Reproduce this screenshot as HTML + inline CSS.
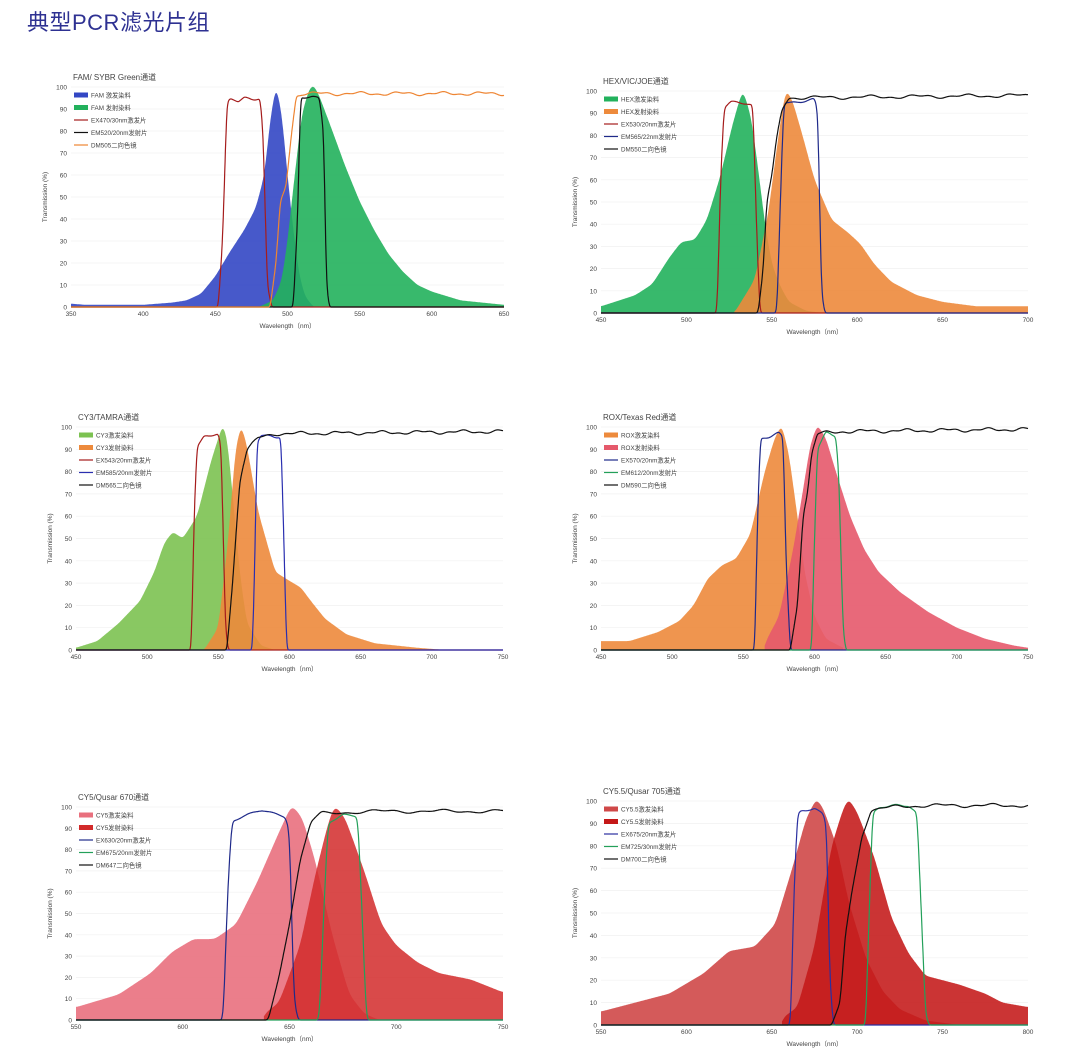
<!DOCTYPE html>
<html><head><meta charset="utf-8">
<style>
html,body{margin:0;padding:0;background:#fff;}
body{width:1091px;height:1064px;overflow:hidden;position:relative;font-family:"Liberation Sans","Noto Sans CJK SC",sans-serif;}
#t{position:absolute;left:27px;top:5px;font-size:22px;color:#2e3192;font-family:"Liberation Sans","Noto Sans CJK SC",sans-serif;letter-spacing:0.5px;}
svg{position:absolute;left:0;top:0;}
text{font-family:"Liberation Sans","Noto Sans CJK SC",sans-serif;fill:#444;}
</style></head><body>
<div id="t">典型PCR滤光片组</div>
<svg id="s" width="1091" height="1064" xmlns="http://www.w3.org/2000/svg"></svg>
<script>
var S=document.getElementById('s'),out='';
function interp(p,w){
  if(w<=p[0][0])return p[0][1];
  for(var i=0;i<p.length-1;i++){if(w<=p[i+1][0]){var a=p[i],b=p[i+1];if(b[0]==a[0])return b[1];return a[1]+(b[1]-a[1])*(w-a[0])/(b[0]-a[0]);}}
  return p[p.length-1][1];
}
function smooth(p,sig,wig){
  var a=p[0][0],b=p[p.length-1][0],st=0.25,raw=[],i;
  for(var w=a;w<=b+1e-9;w+=st){var v=interp(p,w);if(wig&&v>85)v+=0.6*Math.sin(w*0.22)+0.35*Math.sin(w*0.55);raw.push([w,v]);}
  if(sig<=0)return raw;
  var r=Math.ceil(3*sig/st),k=[],ks=0;
  for(i=-r;i<=r;i++){var e=Math.exp(-0.5*Math.pow(i*st/sig,2));k.push(e);ks+=e;}
  var res=[];
  for(i=0;i<raw.length;i++){var s=0;for(var j=-r;j<=r;j++){var idx=Math.min(raw.length-1,Math.max(0,i+j));s+=raw[idx][1]*k[j+r];}res.push([raw[i][0],s/ks]);}
  return res;
}
function chart(c){
  var x0=c.x0,x1=c.x1,y0=c.y0,y1=c.y1,w0=c.w0,w1=c.w1;
  function X(w){return x0+(w-w0)/(w1-w0)*(x1-x0);}
  function Y(v){return y0+(100-v)/100*(y1-y0);}
  var g='';
  for(var v=0;v<=100;v+=10){var y=Y(v);g+='<line x1="'+x0+'" x2="'+x1+'" y1="'+y+'" y2="'+y+'" stroke="'+(v?'#f0f0f0':'#999')+'" stroke-width="0.7"/>';
    g+='<text x="'+(x0-4)+'" y="'+(y+2.5)+'" font-size="6.5" text-anchor="end">'+v+'</text>';}
  for(var w=w0;w<=w1;w+=c.step){g+='<text x="'+X(w)+'" y="'+(y1+9)+'" font-size="6.5" text-anchor="middle">'+w+'</text>';}
  g+='<text x="'+((x0+x1)/2)+'" y="'+(y1+21)+'" font-size="6.5" text-anchor="middle">Wavelength（nm）</text>';
  var my=(y0+y1)/2;
  g+='<text x="'+(x0-24)+'" y="'+my+'" font-size="6.5" text-anchor="middle" transform="rotate(-90 '+(x0-24)+' '+my+')">Transmission (%)</text>';
  g+='<text x="'+(x0+2)+'" y="'+(y0-7)+'" font-size="8">'+c.title+'</text>';
  c.series.forEach(function(s){
    var pts,d='';
    if(s.fill){
      pts=smooth(s.pts,1.3,false);
      d='M'+X(pts[0][0]).toFixed(1)+','+Y(0);
      pts.forEach(function(q){d+=' L'+X(q[0]).toFixed(1)+','+Y(Math.max(0,q[1])).toFixed(1);});
      d+=' L'+X(pts[pts.length-1][0]).toFixed(1)+','+Y(0)+'Z';
      g+='<path d="'+d+'" fill="'+s.col+'" fill-opacity="'+(s.op||0.9)+'"/>';
    } else {
      pts=smooth(s.pts,0.6,true);
      pts.forEach(function(q,i){d+=(i?' L':'M')+X(q[0]).toFixed(1)+','+Y(q[1]).toFixed(1);});
      g+='<path d="'+d+'" fill="none" stroke="'+s.col+'" stroke-width="1.2" stroke-linejoin="round"/>';
    }
  });
  var ly=y0+8;
  c.series.forEach(function(s,i){var yy=ly+i*12.5;
    if(s.fill)g+='<rect x="'+(x0+3)+'" y="'+(yy-2.5)+'" width="14" height="5" fill="'+s.col+'"/>';
    else g+='<line x1="'+(x0+3)+'" x2="'+(x0+17)+'" y1="'+yy+'" y2="'+yy+'" stroke="'+s.col+'" stroke-width="1.2"/>';
    g+='<text x="'+(x0+20)+'" y="'+(yy+2.3)+'" font-size="6.3">'+s.name+'</text>';});
  out+=g;
}
chart({x0:71,x1:504,y0:87,y1:307,w0:350,w1:650,step:50,title:'FAM/ SYBR Green通道',series:[
 {name:'FAM 激发染料',fill:1,col:'#3347c4',pts:[[350,1.5],[360,1],[400,1],[420,2],[430,3],[440,6],[450,14],[460,25],[470,35],[478,45],[484,60],[488,85],[492,101],[496,88],[500,60],[504,35],[508,15],[512,5],[518,0]]},
 {name:'FAM 发射染料',fill:1,col:'#22b15c',pts:[[480,0],[490,3],[496,12],[500,30],[505,60],[510,88],[515,99],[518,101],[522,96],[530,82],[540,64],[550,48],[560,35],[570,24],[580,16],[590,10],[600,7],[620,3],[650,1]]},
 {name:'EX470/30nm激发片',col:'#a51c1c',pts:[[350,0],[452,0],[455,30],[458,92],[460,94],[466,93],[470,95],[481,95],[483,80],[486,10],[489,0],[650,0]]},
 {name:'EM520/20nm发射片',col:'#111',pts:[[350,0],[504,0],[507,40],[509,96],[515,95],[522,95],[525,80],[527,10],[529,0],[650,0]]},
 {name:'DM505二向色镜',col:'#ee8533',pts:[[350,0],[488,0],[492,20],[495,48],[499,55],[503,80],[506,96],[510,97],[650,97]]}
]});
chart({x0:601,x1:1028,y0:91,y1:313,w0:450,w1:700,step:50,title:'HEX/VIC/JOE通道',series:[
 {name:'HEX激发染料',fill:1,col:'#22b15c',pts:[[450,3],[470,8],[480,13],[490,25],[497,32],[505,33],[512,42],[520,62],[527,85],[533,101],[538,88],[542,65],[546,40],[550,22],[555,12],[560,5],[570,1],[580,0]]},
 {name:'HEX发射染料',fill:1,col:'#ed8a3c',pts:[[528,0],[540,15],[548,45],[553,75],[558,101],[562,96],[568,80],[575,60],[585,42],[595,36],[602,31],[610,22],[620,14],[635,8],[650,5],[670,3],[700,3]]},
 {name:'EX530/20nm激发片',col:'#a51c1c',pts:[[450,0],[518,0],[520,60],[522,92],[526,95],[535,95],[539,94],[541,40],[543,0],[700,0]]},
 {name:'EM565/22nm发射片',col:'#1f2a8a',pts:[[450,0],[553,0],[555,50],[557,95],[575,96],[577,90],[579,10],[581,0],[700,0]]},
 {name:'DM550二向色镜',col:'#111',pts:[[450,0],[542,0],[545,20],[547,50],[550,62],[553,80],[556,92],[560,97],[570,97],[700,98]]}
]});
chart({x0:76,x1:503,y0:427,y1:650,w0:450,w1:750,step:50,title:'CY3/TAMRA通道',series:[
 {name:'CY3激发染料',fill:1,col:'#7cc251',pts:[[450,1],[465,4],[480,12],[495,22],[505,35],[512,48],[518,53],[525,50],[535,60],[545,85],[553,101],[556,96],[560,70],[565,35],[570,12],[580,2],[590,0]]},
 {name:'CY3发射染料',fill:1,col:'#ed8a3c',pts:[[540,0],[550,10],[557,50],[562,90],[566,101],[570,92],[578,62],[590,35],[600,31],[608,28],[615,22],[625,14],[640,7],[660,3],[690,1],[710,0]]},
 {name:'EX543/20nm激发片',col:'#a51c1c',pts:[[450,0],[531,0],[533,60],[535,92],[540,96],[550,96],[552,90],[555,10],[557,0],[750,0]]},
 {name:'EM585/20nm发射片',col:'#2a2fb0',pts:[[450,0],[574,0],[576,50],[577,92],[580,96],[594,96],[596,50],[598,0],[750,0]]},
 {name:'DM565二向色镜',col:'#111',pts:[[450,0],[556,0],[560,30],[565,75],[570,90],[578,95],[590,97],[750,98]]}
]});
chart({x0:601,x1:1028,y0:427,y1:650,w0:450,w1:750,step:50,title:'ROX/Texas Red通道',series:[
 {name:'ROX激发染料',fill:1,col:'#ed8a3c',pts:[[450,4],[470,4],[490,8],[505,13],[515,20],[525,32],[535,38],[545,41],[555,52],[565,80],[572,95],[577,101],[582,88],[588,60],[593,35],[600,15],[608,5],[620,1]]},
 {name:'ROX发射染料',fill:1,col:'#e5596b',pts:[[565,0],[565,3],[575,15],[585,45],[592,72],[597,92],[602,101],[608,95],[615,80],[625,60],[635,45],[645,35],[660,26],[680,17],[700,10],[720,5],[740,2],[750,1]]},
 {name:'EX570/20nm激发片',col:'#1f2a8a',pts:[[450,0],[558,0],[560,60],[562,95],[575,97],[578,95],[580,40],[583,0],[750,0]]},
 {name:'EM612/20nm发射片',col:'#23a05a',pts:[[450,0],[598,0],[600,50],[602,90],[608,97],[615,96],[617,80],[620,10],[622,0],[750,0]]},
 {name:'DM590二向色镜',col:'#111',pts:[[450,0],[583,0],[588,20],[592,60],[595,70],[598,88],[602,97],[620,98],[750,99]]}
]});
chart({x0:76,x1:503,y0:807,y1:1020,w0:550,w1:750,step:50,title:'CY5/Qusar 670通道',series:[
 {name:'CY5激发染料',fill:1,col:'#e9707e',pts:[[550,6],[570,12],[585,22],[595,32],[605,38],[615,38],[625,45],[635,65],[645,88],[651,101],[656,95],[662,75],[670,40],[678,12],[685,3],[692,0]]},
 {name:'CY5发射染料',fill:1,col:'#d22a2a',op:0.85,pts:[[638,0],[638,3],[645,8],[655,35],[662,68],[668,92],[671,101],[676,95],[685,70],[693,45],[700,35],[710,27],[720,22],[735,19],[750,13]]},
 {name:'EX630/20nm激发片',col:'#1f2a8a',pts:[[550,0],[619,0],[621,60],[623,94],[630,96],[637,98],[648,96],[650,90],[652,10],[654,0],[750,0]]},
 {name:'EM675/20nm发射片',col:'#23a05a',pts:[[550,0],[664,0],[666,50],[668,92],[675,97],[682,96],[684,50],[686,0],[750,0]]},
 {name:'DM647二向色镜',col:'#111',pts:[[550,0],[640,0],[645,20],[650,45],[655,75],[660,93],[665,97],[690,98],[750,98]]}
]});
chart({x0:601,x1:1028,y0:801,y1:1025,w0:550,w1:800,step:50,title:'CY5.5/Qusar 705通道',series:[
 {name:'CY5.5激发染料',fill:1,col:'#cf4848',pts:[[550,6],[570,10],[590,14],[610,23],[625,33],[640,35],[652,45],[662,70],[670,92],[676,101],[680,97],[688,80],[695,55],[705,30],[715,15],[725,7],[740,2],[760,0]]},
 {name:'CY5.5发射染料',fill:1,col:'#c41818',op:0.88,pts:[[656,0],[656,3],[665,8],[675,35],[685,80],[692,97],[695,101],[700,95],[710,75],[720,48],[730,32],[740,22],[750,20],[760,18],[775,14],[785,10],[800,8]]},
 {name:'EX675/20nm激发片',col:'#2a2fa0',pts:[[550,0],[661,0],[663,60],[665,93],[667,95],[675,97],[680,95],[682,90],[684,20],[686,0],[800,0]]},
 {name:'EM725/30nm发射片',col:'#23a05a',pts:[[550,0],[705,0],[707,50],[709,95],[713,97],[730,98],[735,95],[737,60],[740,5],[742,0],[800,0]]},
 {name:'DM700二向色镜',col:'#111',pts:[[550,0],[685,0],[690,10],[693,40],[697,60],[703,85],[708,96],[715,97],[740,98],[800,98]]}
]});
S.innerHTML=out;
</script>
</body></html>
